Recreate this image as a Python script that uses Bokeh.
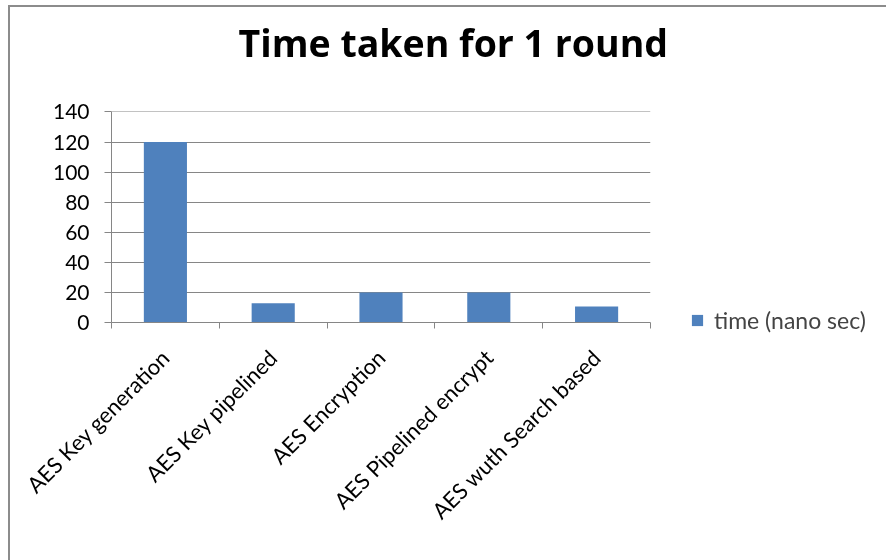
import math
from bokeh.plotting import figure
from bokeh.models import (ColumnDataSource, Legend, LegendItem, Range1d,
                          FixedTicker, Title)
from bokeh.embed import file_html
from bokeh.resources import INLINE

categories = ["AES Key generation", "AES Key pipelined", "AES Encryption",
              "AES Pipelined encrypt", "AES wuth Search based"]
times = [120, 12.8, 20, 20, 10.6]
series_name = "time (nano sec)"
chart_title = "Time taken for 1 round"
y_ticks = [0, 20, 40, 60, 80, 100, 120, 140]

FONT = "Lato"
GRAY = "#868686"
BLUE = "#4F81BD"

n = len(categories)
centers = [i + 0.5 for i in range(n)]
bounds = list(range(n + 1))

src = ColumnDataSource(dict(x=centers, cat=categories, val=times))

p = figure(frame_width=539, frame_height=211,
           x_range=Range1d(0, n), y_range=(0, 140.3),
           output_backend="svg", toolbar_location=None,
           min_border_left=101, min_border_right=0,
           min_border_top=104, min_border_bottom=250)
p.styles = {"position": "fixed", "left": "10px", "top": "7px",
            "box-shadow": "-2px -2px 0px 0px #8c8c8c",
            "clip-path": "inset(-4px 4px -4px -4px)"}

# spacer between frame and title (nearest the frame), then the title itself
p.add_layout(Title(text=" ", text_font_size="1px", standoff=41), "above")
p.add_layout(Title(text=chart_title, text_font="Open Sans", text_font_size="37.5px",
                   text_font_style="bold", text_color="black", align="left",
                   offset=127, vertical_align="bottom", standoff=0), "above")

r = p.vbar(x="x", top="val", width=0.4, source=src, fill_color=BLUE, line_color=None)

p.outline_line_color = None
p.xgrid.grid_line_color = None
p.ygrid.grid_line_color = GRAY
p.ygrid.grid_line_width = 1

p.yaxis.ticker = y_ticks
p.yaxis.axis_line_color = GRAY
p.yaxis.major_tick_line_color = GRAY
p.yaxis.major_tick_out = 7
p.yaxis.major_tick_in = 0
p.yaxis.minor_tick_line_color = None
p.yaxis.major_label_text_font = FONT
p.yaxis.major_label_text_font_size = "21px"
p.yaxis.major_label_text_color = "black"
p.yaxis.major_label_standoff = 15

p.xaxis.ticker = FixedTicker(ticks=centers, minor_ticks=bounds)
p.xaxis.major_label_overrides = {c: name for c, name in zip(centers, categories)}
p.xaxis.axis_line_color = GRAY
p.xaxis.major_tick_line_color = None
p.xaxis.minor_tick_line_color = GRAY
p.xaxis.minor_tick_out = 6
p.xaxis.minor_tick_in = 0
p.xaxis.major_label_text_font = FONT
p.xaxis.major_label_text_font_size = "22px"
p.xaxis.major_label_text_color = "black"
p.xaxis.major_label_orientation = math.pi / 4
p.xaxis.major_label_standoff = 25

legend = Legend(items=[LegendItem(label=series_name, renderers=[r])],
                location=(40, -12), orientation="vertical",
                label_text_font=FONT, label_text_font_size="23px",
                glyph_width=14, glyph_height=14, padding=0, margin=0,
                label_standoff=10, border_line_color=None,
                background_fill_alpha=0)
p.add_layout(legend, "right")

open("out.html", "w").write(file_html(p, INLINE))
